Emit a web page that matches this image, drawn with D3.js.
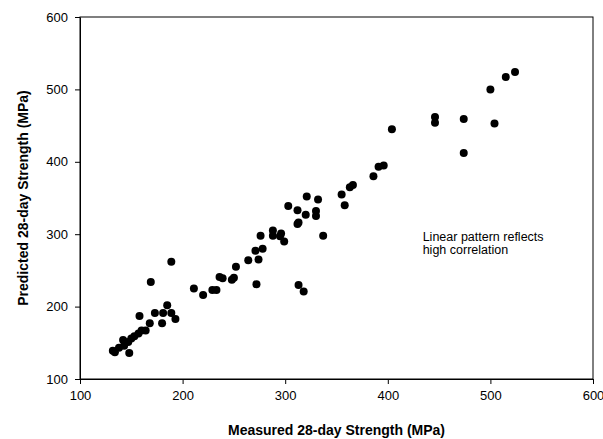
<!DOCTYPE html>
<meta charset="utf-8">
<style>
    body { margin: 0; background: #fff; }
    text { font-family: "Liberation Sans", Arial, sans-serif; }
    .axis path, .axis line { stroke: #000; }
    .axis text { font-size: 13px; fill: #000; }
    .title { font-size: 14px; font-weight: bold; }
</style>
<svg width="603" height="439"></svg>
<script src="https://d3js.org/d3.v7.min.js"></script>
<script>

    // measured vs predicted 28-day strength
    var measured = [132, 134, 138, 143, 142, 147, 148, 150, 153, 157, 160, 164, 158, 168, 169, 173, 181, 189, 180, 193,
        185, 189, 211, 220, 229, 233, 236, 239, 248, 250, 252, 264, 274, 271, 278, 272, 276, 288, 288, 296,
        299, 295, 303, 312, 313, 312, 313, 318, 320, 321, 330, 330, 332, 337, 355, 358, 363, 366, 386, 391,
        396, 404, 446, 446, 474, 474, 500, 504, 515, 524];
    var predicted = [139, 137, 143, 146, 154, 151, 136, 156, 159, 163, 167, 167, 187, 177, 234, 191, 191, 191, 177, 183,
        202, 262, 225, 216, 223, 223, 241, 239, 237, 240, 255, 264, 265, 277, 280, 231, 298, 305, 298, 301,
        290, 297, 339, 333, 316, 314, 230, 221, 327, 352, 332, 325, 348, 298, 355, 340, 365, 368, 380, 393,
        395, 445, 462, 454, 459, 412, 500, 453, 517, 524];
    var xTicks = [100, 200, 300, 400, 500, 600];
    var yTicks = [100, 200, 300, 400, 500, 600];
    var note = ["Linear pattern reflects", "high correlation"];

    var svg = d3.select("svg"),
        margin = { top: 17, right: 10, bottom: 60, left: 80 },
        width = 513,
        height = 362,
        g = svg.append("g").attr("transform", "translate(" + margin.left + "," + margin.top + ")");

    var x = d3.scaleLinear().domain([100, 600]).range([0, width]);
    var y = d3.scaleLinear().domain([100, 600]).range([height, 0]);

    // frame
    g.append("rect")
        .attr("width", width)
        .attr("height", height)
        .attr("fill", "none")
        .attr("stroke", "#000");

    g.append("g")
        .attr("class", "axis")
        .attr("transform", "translate(0," + height + ")")
        .call(d3.axisBottom(x).tickValues(xTicks).tickSize(5).tickPadding(7).tickSizeOuter(0));

    g.append("g")
        .attr("class", "axis")
        .call(d3.axisLeft(y).tickValues(yTicks).tickSize(5).tickPadding(7).tickSizeOuter(0));

    // points
    g.selectAll("circle")
        .data(measured)
        .enter().append("circle")
        .attr("cx", function (d) { return x(d); })
        .attr("cy", function (d, i) { return y(predicted[i]); })
        .attr("r", 4)
        .attr("fill", "#000");

    // annotation
    g.append("text")
        .attr("x", x(434))
        .attr("y", y(290))
        .attr("font-size", "12.5px")
        .selectAll("tspan")
        .data(note)
        .enter().append("tspan")
        .attr("x", x(434))
        .attr("dy", function (d, i) { return i ? 13 : 0; })
        .text(function (d) { return d; });

    // axis titles
    svg.append("text")
        .attr("class", "title")
        .attr("text-anchor", "middle")
        .attr("x", margin.left + width / 2)
        .attr("y", 435)
        .text("Measured 28-day Strength (MPa)");

    svg.append("text")
        .attr("class", "title")
        .attr("text-anchor", "middle")
        .attr("transform", "translate(28," + (margin.top + height / 2) + ") rotate(-90)")
        .text("Predicted 28-day Strength (MPa)");

</script>
